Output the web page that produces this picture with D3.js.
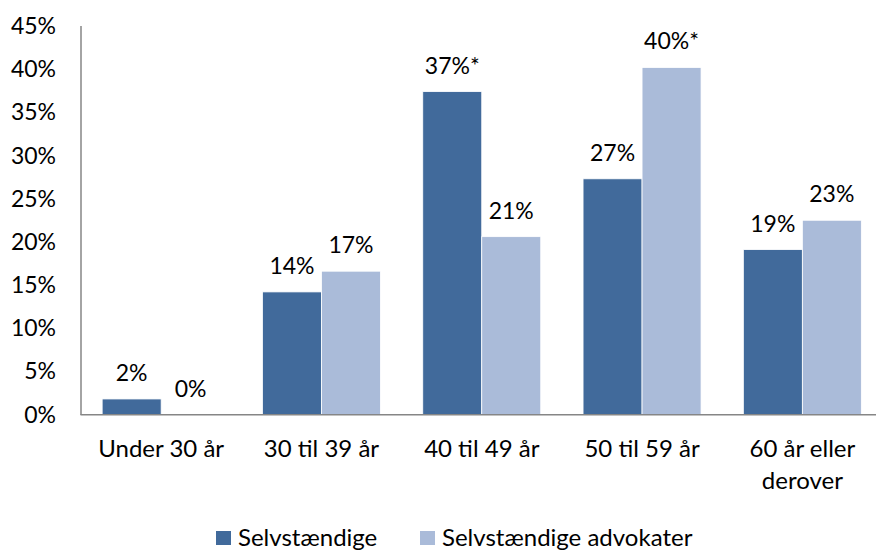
<!DOCTYPE html>
<html><head><meta charset="utf-8">
<script src="https://cdn.jsdelivr.net/npm/d3@7"></script>
<style>body{margin:0;background:#fff}svg{display:block}text{font-family:Lato,"Open Sans",sans-serif;fill:#000}</style>
</head><body>
<script>
const categories = [["Under 30 år"],["30 til 39 år"],["40 til 49 år"],["50 til 59 år"],["60 år eller","derover"]];
const seriesNames = ["Selvstændige","Selvstændige advokater"];
const selvstaendige = [1.8,14.2,37.4,27.3,19.1];
const advokater = [0,16.6,20.6,40.2,22.5];
const labelsA = ["2%","14%","37%*","27%","19%"];
const labelsB = ["0%","17%","21%","40%*","23%"];
const yTicks = [0,5,10,15,20,25,30,35,40,45];
const colors = ["#416A9B","#AABBD9"];

const W=876,H=552;
const svg=d3.select("body").append("svg").attr("width",W).attr("height",H);
const x0=d3.scaleBand().domain(d3.range(categories.length)).range([81,882.5]).padding(0);
const x1=d3.scaleBand().domain([0,1]).range([0,118]);
const y=d3.scaleLinear().domain([0,45]).range([414.5,26]);
const fs=24;

// y labels
svg.append("g").selectAll("text").data(yTicks).join("text")
 .attr("x",56).attr("y",d=>y(d)+8).attr("text-anchor","end")
 .style("font-size",(fs-1)+"px").text(d=>d+"%");

const series=[selvstaendige,advokater];
const labs=[labelsA,labelsB];
series.forEach((vals,si)=>{
  const g=svg.append("g");
  g.selectAll("rect").data(vals).join("rect")
   .attr("x",(d,i)=>x0(i)+x0.bandwidth()/2-59+x1(si))
   .attr("width",x1.bandwidth())
   .attr("y",d=>y(d)).attr("height",d=>y(0)-y(d))
   .attr("fill",colors[si]).attr("stroke","#fff").attr("stroke-width",0.8);
  g.selectAll("text").data(vals).join("text")
   .attr("x",(d,i)=>x0(i)+x0.bandwidth()/2-59+x1(si)+x1.bandwidth()/2)
   .attr("y",d=>y(d)-18).attr("text-anchor","middle")
   .style("font-size",(fs-1)+"px").text((d,i)=>labs[si][i]);
});

// axes lines
svg.append("line").attr("x1",81).attr("x2",81).attr("y1",26).attr("y2",415).attr("stroke","#868686").attr("stroke-width",1.5);
svg.append("line").attr("x1",80.5).attr("x2",882.5).attr("y1",414.8).attr("y2",414.8).attr("stroke","#868686").attr("stroke-width",1.5);

// x labels
const xl=svg.append("g").selectAll("text").data(categories).join("text")
 .attr("text-anchor","middle").style("font-size",fs+"px")
 .attr("transform",(d,i)=>`translate(${x0(i)+x0.bandwidth()/2},457)`);
xl.selectAll("tspan").data(d=>d).join("tspan").attr("x",0).attr("dy",(d,j)=>j?"32":0).text(d=>d);

// legend
const leg=[{x:216,t:seriesNames[0],c:colors[0]},{x:420,t:seriesNames[1],c:colors[1]}];
const lg=svg.append("g").selectAll("g").data(leg).join("g").attr("transform",d=>`translate(${d.x},531)`);
lg.append("rect").attr("width",15).attr("height",14).attr("fill",d=>d.c);
lg.append("text").attr("x",22).attr("y",15).style("font-size",fs+"px").text(d=>d.t);
</script>
</body></html>
